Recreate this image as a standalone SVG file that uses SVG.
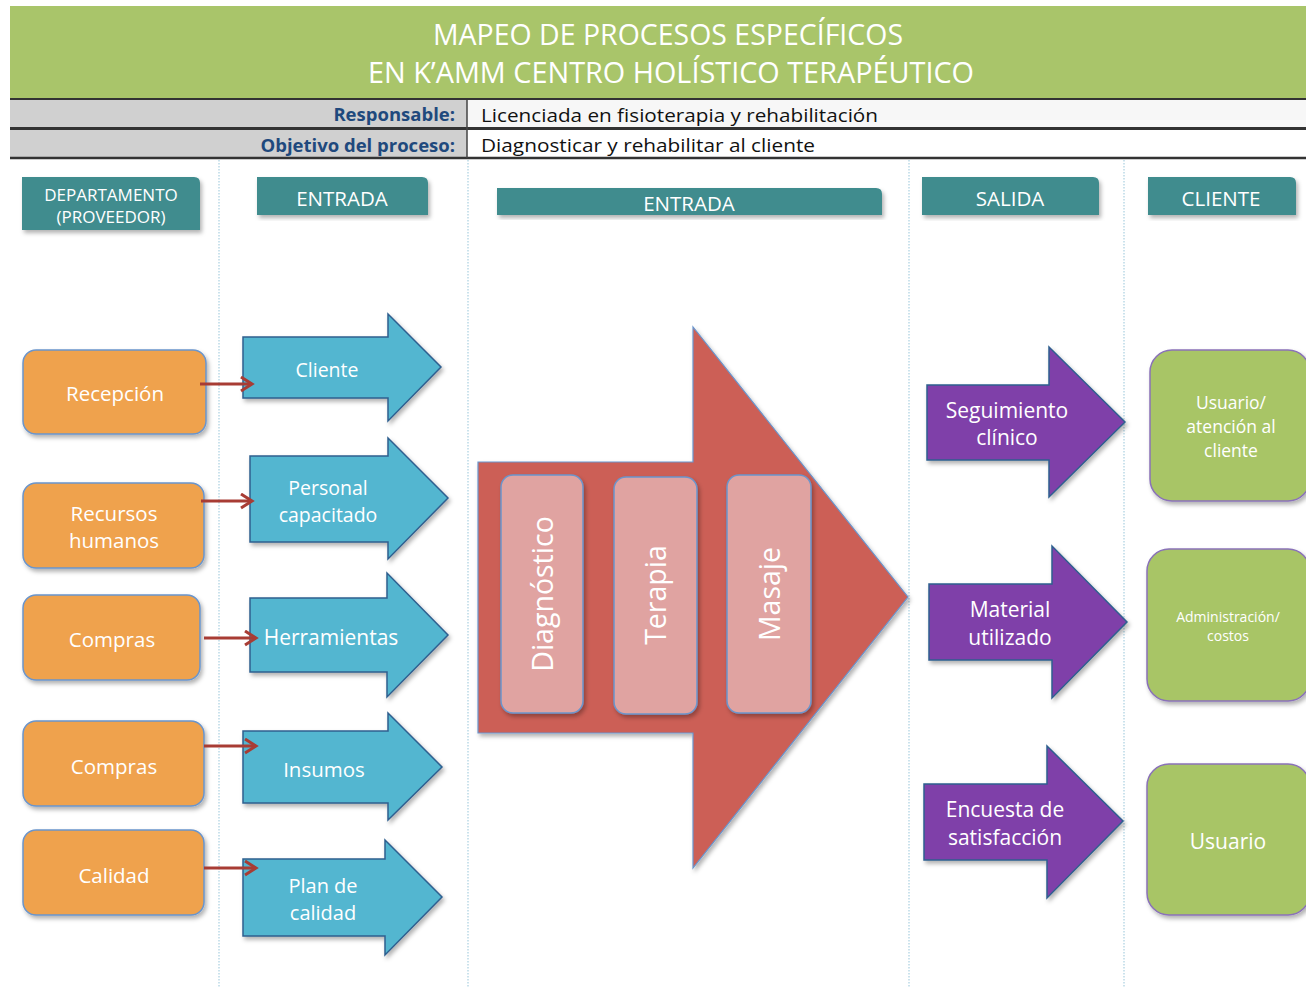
<svg xmlns="http://www.w3.org/2000/svg" width="1306" height="988" viewBox="0 0 1306 988">
<defs>
<style>
.t{font-family:"Open Sans","Liberation Sans",sans-serif;fill:#fff;text-anchor:middle}
.hdr{fill:#3f8c8e;filter:url(#sh)}
.org{fill:#efa24d;stroke:#6a95cc;stroke-width:1.5;filter:url(#sh)}
.blu{fill:#52b6d0;stroke:#2f5f8f;stroke-width:1.5;filter:url(#sh)}
.pur{fill:#7f40a9;stroke:#2f5f8f;stroke-width:1.5;filter:url(#sh)}
.grn{fill:#a8c566;stroke:#8a72b8;stroke-width:1.5;filter:url(#sh)}
.pnk{fill:#e0a3a1;stroke:#6a95cc;stroke-width:1.5;filter:url(#sh)}
.sep{stroke:#a9cfe0;stroke-width:1.2;stroke-dasharray:1.5 1.5}
.con{stroke:#a83c34;stroke-width:3;fill:none;marker-end:url(#ah)}
.lbl{font-family:"Open Sans","Liberation Sans",sans-serif;font-weight:bold;fill:#1f497d;text-anchor:end;font-size:18.5px}
.val{font-family:"Open Sans","Liberation Sans",sans-serif;fill:#111;font-size:18.5px}
</style>
<filter id="sh" x="-10%" y="-10%" width="125%" height="125%">
<feDropShadow dx="2" dy="3" stdDeviation="2" flood-color="#000" flood-opacity="0.3"/>
</filter>
<marker id="ah" markerUnits="userSpaceOnUse" markerWidth="16" markerHeight="18" refX="13" refY="8" orient="auto">
<path d="M2,1 L13,8 L2,15" fill="none" stroke="#a83c34" stroke-width="3"/>
</marker>
</defs>
<rect width="1306" height="988" fill="#fff"/>

<!-- Title -->
<g id="title">
<rect x="10" y="6" width="1296" height="93" fill="#a9c56a"/>
<text class="t" x="668" y="45" font-size="29" textLength="470" lengthAdjust="spacingAndGlyphs">MAPEO DE PROCESOS ESPECÍFICOS</text>
<text class="t" x="671" y="83" font-size="29" textLength="606" lengthAdjust="spacingAndGlyphs">EN K’AMM CENTRO HOLÍSTICO TERAPÉUTICO</text>
</g>

<!-- Info rows -->
<g id="info">
<rect x="10" y="100" width="457" height="28" fill="#d0d0d0"/>
<rect x="10" y="130" width="457" height="28" fill="#d0d0d0"/>
<rect x="467" y="100" width="839" height="28" fill="#f7f7f7"/>
<rect x="467" y="130" width="839" height="28" fill="#fff"/>
<line x1="10" y1="99" x2="1306" y2="99" stroke="#333" stroke-width="2"/>
<line x1="10" y1="128.5" x2="1306" y2="128.5" stroke="#333" stroke-width="3"/>
<line x1="10" y1="158" x2="1306" y2="158" stroke="#333" stroke-width="2.5"/>
<line x1="467" y1="100" x2="467" y2="158" stroke="#444" stroke-width="1.5"/>
<text class="lbl" x="455" y="121">Responsable:</text>
<text class="lbl" x="455" y="152">Objetivo del proceso:</text>
<text class="val" x="481" y="122" textLength="397" lengthAdjust="spacingAndGlyphs">Licenciada en fisioterapia y rehabilitación</text>
<text class="val" x="481" y="152" textLength="334" lengthAdjust="spacingAndGlyphs">Diagnosticar y rehabilitar al cliente</text>
</g>

<!-- Column separators -->
<g id="separators">
<line class="sep" x1="219" y1="160" x2="219" y2="988"/>
<line class="sep" x1="468" y1="160" x2="468" y2="988"/>
<line class="sep" x1="909" y1="160" x2="909" y2="988"/>
<line class="sep" x1="1124" y1="160" x2="1124" y2="988"/>
</g>

<!-- Column headers -->
<g id="hdr-depto">
<path class="hdr" d="M22,177 H194 Q200,177 200,183 V230 H22 Z"/>
<text class="t" x="111" y="201" font-size="17">DEPARTAMENTO</text>
<text class="t" x="111" y="223" font-size="17">(PROVEEDOR)</text>
</g>
<g id="hdr-entrada1">
<path class="hdr" d="M257,177 H422 Q428,177 428,183 V215 H257 Z"/>
<text class="t" x="342" y="206" font-size="20.5">ENTRADA</text>
</g>
<g id="hdr-entrada2">
<path class="hdr" d="M497,188 H876 Q882,188 882,194 V215 H497 Z"/>
<text class="t" x="689" y="211" font-size="20.5">ENTRADA</text>
</g>
<g id="hdr-salida">
<path class="hdr" d="M922,177 H1093 Q1099,177 1099,183 V215 H922 Z"/>
<text class="t" x="1010" y="206" font-size="20.5">SALIDA</text>
</g>
<g id="hdr-cliente">
<path class="hdr" d="M1148,177 H1290 Q1296,177 1296,183 V215 H1148 Z"/>
<text class="t" x="1221" y="206" font-size="20.5">CLIENTE</text>
</g>

<!-- Departments -->
<g id="recepcion">
<rect class="org" x="23" y="350" width="183" height="84" rx="13"/>
<text class="t" x="115" y="401" font-size="20.5">Recepción</text>
</g>
<g id="rrhh">
<rect class="org" x="23" y="483" width="181" height="85" rx="13"/>
<text class="t" x="114" y="521" font-size="20.5">Recursos</text>
<text class="t" x="114" y="548" font-size="20.5">humanos</text>
</g>
<g id="compras1">
<rect class="org" x="23" y="595" width="177" height="85" rx="13"/>
<text class="t" x="112" y="647" font-size="20.5">Compras</text>
</g>
<g id="compras2">
<rect class="org" x="23" y="721" width="181" height="85" rx="13"/>
<text class="t" x="114" y="774" font-size="20.5">Compras</text>
</g>
<g id="calidad">
<rect class="org" x="23" y="830" width="181" height="85" rx="13"/>
<text class="t" x="114" y="883" font-size="20.5">Calidad</text>
</g>

<!-- Inputs -->
<g id="in-cliente">
<path class="blu" d="M243,337 H388 V314 L441,367 L388,421 V398 H243 Z"/>
<text class="t" x="327" y="377" font-size="19.5">Cliente</text>
</g>
<g id="in-personal">
<path class="blu" d="M250,456 H388 V438 L448,498 L388,559 V542 H250 Z"/>
<text class="t" x="328" y="495" font-size="19.5">Personal</text>
<text class="t" x="328" y="522" font-size="19.5">capacitado</text>
</g>
<g id="in-herramientas">
<path class="blu" d="M250,598 H387 V573 L448,635 L387,697 V672 H250 Z"/>
<text class="t" x="331" y="645" font-size="21">Herramientas</text>
</g>
<g id="in-insumos">
<path class="blu" d="M243,731 H388 V713 L442,767 L388,820 V803 H243 Z"/>
<text class="t" x="324" y="777" font-size="20.5">Insumos</text>
</g>
<g id="in-plan">
<path class="blu" d="M243,859 H385 V840 L442,897 L385,955 V936 H243 Z"/>
<text class="t" x="323" y="893" font-size="20">Plan de</text>
<text class="t" x="323" y="920" font-size="20">calidad</text>
</g>

<!-- Process -->
<g id="proceso">
<path d="M478,462 H693 V327 L908,597 L693,868 V733 H478 Z" fill="#cc5f57" stroke="#6a95cc" stroke-width="1.2" filter="url(#sh)"/>
</g>
<g id="diagnostico">
<rect class="pnk" x="501" y="475" width="82" height="238" rx="12"/>
<text class="t" transform="translate(553,594) rotate(-90)" font-size="28.5">Diagnóstico</text>
</g>
<g id="terapia">
<rect class="pnk" x="614" y="477" width="83" height="237" rx="12"/>
<text class="t" transform="translate(666,595) rotate(-90)" font-size="28.5">Terapia</text>
</g>
<g id="masaje">
<rect class="pnk" x="727" y="475" width="84" height="238" rx="12"/>
<text class="t" transform="translate(780,594) rotate(-90)" font-size="28.5">Masaje</text>
</g>

<!-- Outputs -->
<g id="out-seguimiento">
<path class="pur" d="M927,385 H1049 V347 L1125,422 L1049,497 V460 H927 Z"/>
<text class="t" x="1007" y="418" font-size="21">Seguimiento</text>
<text class="t" x="1007" y="445" font-size="21">clínico</text>
</g>
<g id="out-material">
<path class="pur" d="M929,584 H1052 V546 L1127,622 L1052,698 V660 H929 Z"/>
<text class="t" x="1010" y="617" font-size="21">Material</text>
<text class="t" x="1010" y="645" font-size="21">utilizado</text>
</g>
<g id="out-encuesta">
<path class="pur" d="M924,784 H1047 V746 L1123,821 L1047,898 V860 H924 Z"/>
<text class="t" x="1005" y="817" font-size="21">Encuesta de</text>
<text class="t" x="1005" y="845" font-size="21">satisfacción</text>
</g>

<!-- Clients -->
<g id="cli-usuario-atencion">
<rect class="grn" x="1150" y="350" width="160" height="151" rx="22"/>
<text class="t" x="1231" y="409" font-size="17.5">Usuario/</text>
<text class="t" x="1231" y="433" font-size="17.5">atención al</text>
<text class="t" x="1231" y="457" font-size="17.5">cliente</text>
</g>
<g id="cli-administracion">
<rect class="grn" x="1147" y="549" width="163" height="152" rx="22"/>
<text class="t" x="1228" y="622" font-size="14">Administración/</text>
<text class="t" x="1228" y="641" font-size="14">costos</text>
</g>
<g id="cli-usuario">
<rect class="grn" x="1147" y="764" width="163" height="151" rx="22"/>
<text class="t" x="1228" y="849" font-size="21">Usuario</text>
</g>

<!-- Connectors -->
<g id="connectors">
<line class="con" x1="200" y1="384" x2="252" y2="384"/>
<line class="con" x1="201" y1="501" x2="252" y2="501"/>
<line class="con" x1="204" y1="638" x2="256" y2="638"/>
<line class="con" x1="204" y1="746" x2="256" y2="746"/>
<line class="con" x1="204" y1="868" x2="256" y2="868"/>
</g>
</svg>
